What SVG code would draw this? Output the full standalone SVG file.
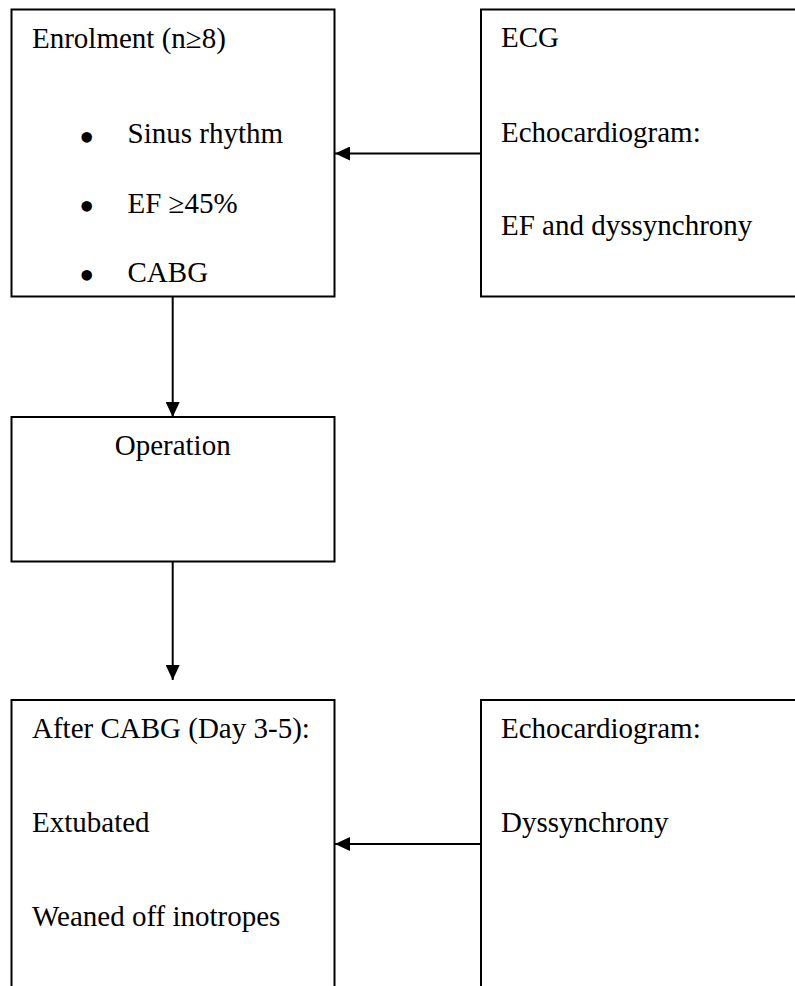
<svg xmlns="http://www.w3.org/2000/svg" width="795" height="986" viewBox="0 0 795 986">
<defs>
<style>
.box{fill:#fff;stroke:#000;stroke-width:2}
.t{font-family:"Liberation Serif","Times New Roman",serif;font-size:29px;fill:#000}
.b{font-family:"Liberation Serif","Times New Roman",serif;font-size:44px;fill:#000}
.c{stroke:#000;stroke-width:2;fill:none}
</style>
<marker id="ah" markerWidth="15" markerHeight="14" refX="15" refY="7" orient="auto" markerUnits="userSpaceOnUse">
<path d="M0,0 L15,7 L0,14 Z" fill="#000"/>
</marker>
</defs>
<rect width="795" height="986" fill="#fff"/>
<g id="connectors">
<line class="c" x1="481" y1="153.5" x2="335" y2="153.5" marker-end="url(#ah)"/>
<line class="c" x1="172.7" y1="296.5" x2="172.7" y2="417" marker-end="url(#ah)"/>
<line class="c" x1="172.7" y1="561.5" x2="172.7" y2="680" marker-end="url(#ah)"/>
<line class="c" x1="481" y1="844" x2="335" y2="844" marker-end="url(#ah)"/>
</g>
<g id="enrolment">
<rect class="box" x="11.5" y="9.5" width="323" height="287"/>
<text class="t" x="32" y="48">Enrolment (n≥8)</text>
<text class="b" x="79" y="152">•</text>
<text class="t" x="127.5" y="143">Sinus rhythm</text>
<text class="b" x="79" y="220.5">•</text>
<text class="t" x="127.5" y="212.5">EF ≥45%</text>
<text class="b" x="79" y="289.5">•</text>
<text class="t" x="127.5" y="281.5">CABG</text>
</g>
<g id="ecg">
<rect class="box" x="481" y="9.5" width="330" height="287"/>
<text class="t" x="501" y="46.5">ECG</text>
<text class="t" x="501" y="141.5">Echocardiogram:</text>
<text class="t" x="501" y="235">EF and dyssynchrony</text>
</g>
<g id="operation">
<rect class="box" x="11.5" y="417" width="323" height="144.5"/>
<text class="t" x="172.7" y="455" text-anchor="middle">Operation</text>
</g>
<g id="after-cabg">
<rect class="box" x="11.5" y="700" width="323" height="300"/>
<text class="t" x="32" y="737.5">After CABG (Day 3-5):</text>
<text class="t" x="32" y="831.5">Extubated</text>
<text class="t" x="32" y="926">Weaned off inotropes</text>
</g>
<g id="echo-post">
<rect class="box" x="481" y="700" width="330" height="300"/>
<text class="t" x="501" y="737.5">Echocardiogram:</text>
<text class="t" x="501" y="831.5">Dyssynchrony</text>
</g>
</svg>
